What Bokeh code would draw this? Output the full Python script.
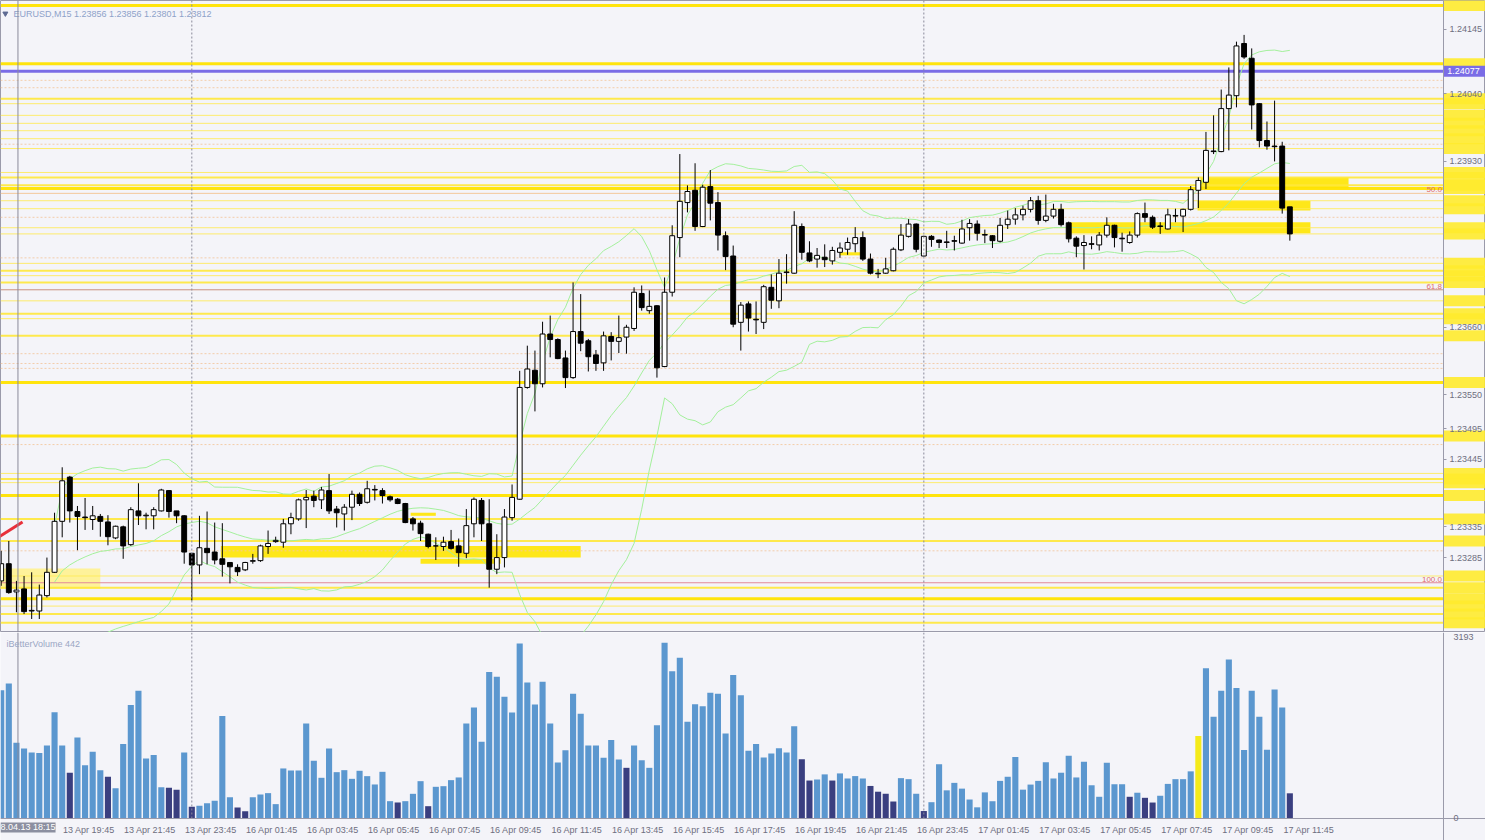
import numpy as np
import pandas as pd
from bokeh.plotting import figure
from bokeh.models import (Range1d, LinearAxis, FixedTicker, PrintfTickFormatter,
                          Span, ColumnDataSource, Label)
from bokeh.layouts import column
from bokeh.embed import file_html
from bokeh.resources import INLINE
from bokeh.core.properties import value

symbol = "EURUSD,M15"
indicator_name = "iBetterVolume"

opens = [
    1.23247, 1.23275, 1.23229, 1.23234, 1.23198, 1.23198, 1.23223, 1.23261, 1.23344, 1.23416,
    1.23360, 1.23351, 1.23347, 1.23352, 1.23343, 1.23317, 1.23335, 1.23306, 1.23361, 1.23353,
    1.23353, 1.23361, 1.23394, 1.23361, 1.23353, 1.23292, 1.23273, 1.23300, 1.23294, 1.23283,
    1.23277, 1.23269, 1.23265, 1.23279, 1.23280, 1.23303, 1.23311, 1.23310, 1.23340, 1.23348,
    1.23379, 1.23385, 1.23379, 1.23394, 1.23364, 1.23356, 1.23367, 1.23388, 1.23375, 1.23396,
    1.23394, 1.23384, 1.23380, 1.23373, 1.23348, 1.23341, 1.23323, 1.23304, 1.23303, 1.23311,
    1.23304, 1.23292, 1.23340, 1.23378, 1.23340, 1.23266, 1.23285, 1.23350, 1.23380, 1.23562,
    1.23590, 1.23568, 1.23649, 1.23640, 1.23610, 1.23578, 1.23653, 1.23638, 1.23615, 1.23602,
    1.23645, 1.23637, 1.23644, 1.23658, 1.23715, 1.23687, 1.23695, 1.23596, 1.23717, 1.23806,
    1.23863, 1.23883, 1.23824, 1.23889, 1.23863, 1.23809, 1.23776, 1.23668, 1.23698, 1.23673,
    1.23668, 1.23725, 1.23703, 1.23750, 1.23748, 1.23824, 1.23781, 1.23771, 1.23774, 1.23768,
    1.23782, 1.23787, 1.23796, 1.23806, 1.23771, 1.23748, 1.23748, 1.23752, 1.23786, 1.23808,
    1.23828, 1.23776, 1.23808, 1.23802, 1.23799, 1.23801, 1.23797, 1.23822, 1.23828, 1.23811,
    1.23809, 1.23800, 1.23827, 1.23836, 1.23843, 1.23852, 1.23866, 1.23834, 1.23841, 1.23852,
    1.23830, 1.23805, 1.23793, 1.23796, 1.23794, 1.23810, 1.23826, 1.23805, 1.23798, 1.23810,
    1.23845, 1.23839, 1.23825, 1.23820, 1.23841, 1.23841, 1.23852, 1.23883, 1.23896, 1.23947,
    1.23946, 1.24016, 1.24037, 1.24122, 1.24098, 1.24024, 1.23964, 1.23955, 1.23955, 1.23856,
]
highs = [
    1.23296, 1.23312, 1.23247, 1.23255, 1.23261, 1.23241, 1.23285, 1.23358, 1.23432, 1.23418,
    1.23369, 1.23382, 1.23369, 1.23356, 1.23354, 1.23337, 1.23337, 1.23367, 1.23406, 1.23358,
    1.23367, 1.23397, 1.23395, 1.23361, 1.23354, 1.23292, 1.23353, 1.23360, 1.23342, 1.23341,
    1.23277, 1.23274, 1.23278, 1.23291, 1.23306, 1.23329, 1.23319, 1.23348, 1.23358, 1.23381,
    1.23395, 1.23394, 1.23400, 1.23421, 1.23369, 1.23372, 1.23394, 1.23391, 1.23410, 1.23403,
    1.23398, 1.23386, 1.23382, 1.23374, 1.23351, 1.23345, 1.23324, 1.23318, 1.23319, 1.23330,
    1.23316, 1.23364, 1.23383, 1.23382, 1.23380, 1.23323, 1.23364, 1.23404, 1.23589, 1.23630,
    1.23622, 1.23669, 1.23679, 1.23642, 1.23622, 1.23733, 1.23714, 1.23641, 1.23623, 1.23653,
    1.23652, 1.23679, 1.23664, 1.23725, 1.23728, 1.23720, 1.23696, 1.23741, 1.23826, 1.23942,
    1.23891, 1.23927, 1.23892, 1.23916, 1.23880, 1.23816, 1.23793, 1.23701, 1.23702, 1.23702,
    1.23729, 1.23746, 1.23771, 1.23779, 1.23849, 1.23829, 1.23800, 1.23789, 1.23795, 1.23791,
    1.23798, 1.23806, 1.23823, 1.23816, 1.23780, 1.23755, 1.23773, 1.23790, 1.23828, 1.23836,
    1.23829, 1.23809, 1.23810, 1.23803, 1.23817, 1.23809, 1.23835, 1.23836, 1.23834, 1.23819,
    1.23810, 1.23838, 1.23850, 1.23854, 1.23858, 1.23872, 1.23874, 1.23876, 1.23861, 1.23861,
    1.23832, 1.23808, 1.23810, 1.23808, 1.23815, 1.23839, 1.23827, 1.23814, 1.23816, 1.23847,
    1.23863, 1.23842, 1.23831, 1.23853, 1.23853, 1.23853, 1.23890, 1.23904, 1.23978, 1.24005,
    1.24047, 1.24083, 1.24125, 1.24136, 1.24114, 1.24025, 1.23995, 1.24029, 1.23962, 1.23856,
]
lows = [
    1.23239, 1.23226, 1.23196, 1.23193, 1.23185, 1.23185, 1.23220, 1.23260, 1.23318, 1.23342,
    1.23297, 1.23330, 1.23330, 1.23319, 1.23305, 1.23315, 1.23283, 1.23304, 1.23338, 1.23331,
    1.23331, 1.23360, 1.23350, 1.23341, 1.23275, 1.23215, 1.23258, 1.23274, 1.23274, 1.23254,
    1.23243, 1.23255, 1.23263, 1.23275, 1.23278, 1.23291, 1.23309, 1.23301, 1.23323, 1.23345,
    1.23333, 1.23367, 1.23364, 1.23356, 1.23334, 1.23329, 1.23346, 1.23369, 1.23373, 1.23378,
    1.23373, 1.23376, 1.23372, 1.23341, 1.23329, 1.23312, 1.23300, 1.23281, 1.23296, 1.23298,
    1.23270, 1.23284, 1.23318, 1.23312, 1.23236, 1.23258, 1.23269, 1.23345, 1.23379, 1.23560,
    1.23523, 1.23562, 1.23611, 1.23608, 1.23561, 1.23576, 1.23621, 1.23588, 1.23589, 1.23589,
    1.23606, 1.23618, 1.23617, 1.23654, 1.23687, 1.23682, 1.23578, 1.23595, 1.23710, 1.23774,
    1.23847, 1.23817, 1.23823, 1.23834, 1.23785, 1.23753, 1.23660, 1.23622, 1.23653, 1.23649,
    1.23657, 1.23690, 1.23691, 1.23731, 1.23747, 1.23770, 1.23766, 1.23757, 1.23758, 1.23762,
    1.23773, 1.23778, 1.23782, 1.23768, 1.23746, 1.23740, 1.23747, 1.23751, 1.23784, 1.23806,
    1.23782, 1.23775, 1.23791, 1.23789, 1.23789, 1.23785, 1.23796, 1.23801, 1.23801, 1.23797,
    1.23789, 1.23798, 1.23820, 1.23827, 1.23834, 1.23847, 1.23827, 1.23831, 1.23837, 1.23824,
    1.23798, 1.23774, 1.23754, 1.23787, 1.23785, 1.23806, 1.23790, 1.23783, 1.23796, 1.23806,
    1.23831, 1.23820, 1.23812, 1.23819, 1.23831, 1.23815, 1.23850, 1.23854, 1.23885, 1.23942,
    1.23945, 1.23948, 1.24018, 1.24097, 1.23982, 1.23953, 1.23949, 1.23930, 1.23845, 1.23801,
]
closes = [
    1.23275, 1.23228, 1.23232, 1.23197, 1.23199, 1.23224, 1.23261, 1.23344, 1.23410, 1.23361,
    1.23352, 1.23350, 1.23353, 1.23344, 1.23319, 1.23336, 1.23304, 1.23363, 1.23353, 1.23354,
    1.23363, 1.23395, 1.23360, 1.23353, 1.23294, 1.23273, 1.23301, 1.23293, 1.23281, 1.23274,
    1.23270, 1.23262, 1.23277, 1.23280, 1.23304, 1.23308, 1.23313, 1.23340, 1.23350, 1.23379,
    1.23383, 1.23378, 1.23395, 1.23361, 1.23358, 1.23367, 1.23388, 1.23373, 1.23397, 1.23395,
    1.23386, 1.23379, 1.23373, 1.23342, 1.23340, 1.23324, 1.23303, 1.23304, 1.23310, 1.23300,
    1.23293, 1.23337, 1.23380, 1.23340, 1.23266, 1.23285, 1.23351, 1.23383, 1.23562, 1.23592,
    1.23568, 1.23649, 1.23640, 1.23609, 1.23578, 1.23653, 1.23634, 1.23612, 1.23601, 1.23646,
    1.23637, 1.23643, 1.23660, 1.23717, 1.23692, 1.23694, 1.23594, 1.23717, 1.23809, 1.23865,
    1.23881, 1.23824, 1.23888, 1.23862, 1.23810, 1.23775, 1.23665, 1.23696, 1.23675, 1.23672,
    1.23726, 1.23704, 1.23748, 1.23749, 1.23826, 1.23782, 1.23768, 1.23777, 1.23770, 1.23785,
    1.23789, 1.23798, 1.23806, 1.23771, 1.23748, 1.23747, 1.23755, 1.23787, 1.23810, 1.23828,
    1.23787, 1.23808, 1.23803, 1.23798, 1.23798, 1.23800, 1.23820, 1.23829, 1.23813, 1.23810,
    1.23801, 1.23826, 1.23836, 1.23843, 1.23852, 1.23866, 1.23834, 1.23841, 1.23852, 1.23827,
    1.23804, 1.23792, 1.23798, 1.23795, 1.23810, 1.23826, 1.23806, 1.23804, 1.23810, 1.23845,
    1.23839, 1.23823, 1.23824, 1.23843, 1.23842, 1.23852, 1.23884, 1.23899, 1.23948, 1.23946,
    1.24016, 1.24038, 1.24118, 1.24100, 1.24022, 1.23964, 1.23955, 1.23954, 1.23854, 1.23812,
]
volumes = [
    2252, 2369, 1328, 1228, 1158, 1147, 1281, 1866, 1281, 801,
    1422, 936, 1170, 848, 731, 532, 1305, 1989, 2241, 1053,
    1112, 550, 538, 503, 1158, 205, 222, 269, 310, 1796,
    374, 193, 129, 374, 421, 445, 252, 878, 842, 842,
    1667, 1012, 714, 1228, 813, 848, 696, 837, 743, 597,
    819, 304, 281, 304, 433, 655, 216, 556, 567, 673,
    720, 1667, 1948, 1346, 2568, 2486, 2135, 1860, 3071, 2387,
    2001, 2399, 1667, 983, 1199, 2188, 1837, 1281, 1281, 1065,
    1375, 1035, 889, 1281, 1024, 889, 1636, 3082, 2582, 2820,
    1696, 2005, 1969, 2207, 2190, 1493, 2517, 2160, 1190, 1309,
    1071, 1142, 1232, 1160, 1618, 1041, 666, 684, 774, 666,
    791, 702, 744, 702, 571, 470, 434, 298, 708, 690,
    434, 131, 286, 952, 494, 625, 524, 333, 196, 458,
    303, 660, 732, 1077, 506, 595, 660, 988, 702, 803,
    1101, 720, 994, 583, 381, 976, 601, 601, 381, 452,
    363, 280, 399, 607, 690, 690, 827, 1446, 2636, 1785,
    2243, 2791, 2291, 1202, 2243, 1785, 1208, 2261, 1946, 442,
]
low_volume_bars = [9, 14, 22, 23, 25, 31, 32, 52, 56, 82, 105, 106, 109, 114,
                   115, 116, 117, 121, 148, 150, 151, 169]
climax_bars = [157]
volume_max_label = 3193

# time axis: bar index of each label and its text
label_bars = [8, 16, 24, 32, 40, 48, 56, 64, 72, 80, 88, 96, 104, 112, 120,
              128, 136, 144, 152, 160, 168]
time_labels = ["13 Apr 19:45", "13 Apr 21:45", "13 Apr 23:45", "16 Apr 01:45",
               "16 Apr 03:45", "16 Apr 05:45", "16 Apr 07:45", "16 Apr 09:45",
               "16 Apr 11:45", "16 Apr 13:45", "16 Apr 15:45", "16 Apr 17:45",
               "16 Apr 19:45", "16 Apr 21:45", "16 Apr 23:45", "17 Apr 01:45",
               "17 Apr 03:45", "17 Apr 05:45", "17 Apr 07:45", "17 Apr 09:45",
               "17 Apr 11:45"]
day_start_bars = [25, 121]
vline_bar = 2.2
vline_label = "8.04.13 18:15"

price_ticks = [1.24145, 1.24040, 1.23930, 1.23660, 1.23550, 1.23495,
               1.23445, 1.23335, 1.23285]

# horizontal price levels (chart objects)
strong_levels = [1.24184, 1.24089, 1.23886, 1.23570, 1.23483, 1.23386, 1.23218]
medium_levels = [1.24032, 1.23904, 1.23891, 1.23752, 1.23733, 1.23682, 1.23646,
                 1.23413, 1.23348, 1.23312, 1.23236, 1.23193, 1.23179]
thin_levels = [1.24024, 1.24005, 1.23992, 1.23980, 1.23967, 1.23951, 1.23912,
               1.23866, 1.23853, 1.23822, 1.23812, 1.23764, 1.23744, 1.23703,
               1.23674, 1.23422, 1.23407, 1.23255, 1.23206]
pale_levels = [1.24062, 1.24050, 1.23958, 1.23839, 1.23773, 1.23617, 1.23601,
               1.23593, 1.23469, 1.23296]
purple_level = 1.24077
fib_levels = [1.23878, 1.23721, 1.23244]
fib_names = ["50.0", "61.8", "100.0"]

# rectangles (bar from, bar to, price top, price bottom)
zone_start = [28.8, 140.2, 156.9, 157.3, 53.7, 55.0, 110.0]
zone_end = [76.0, 171.7, 171.7, 176.7, 57.0, 65.5, 112.7]
zone_top = [1.23304, 1.23831, 1.23866, 1.23904, 1.23358, 1.23283, 1.23782]
zone_bottom = [1.23285, 1.23813, 1.23850, 1.23886, 1.23353, 1.23275, 1.23777]
pale_zone_start = [-0.5]
pale_zone_end = [13.0]
pale_zone_top = [1.23267]
pale_zone_bottom = [1.23234]

trend_x = [-0.5, 2.8]
trend_y = [1.23317, 1.23343]

# ---------------------------------------------------------------- layout
W = 1485
PRICE_H = 632
VOL_H = 208
FONT = "Liberation Sans"
BG = "#F4F4F9"
GRAYLINE = "#9A9AAA"
TXT = "#6E6E80"

x_lo, x_hi = -0.09, 194.66
axis_x = 189.15
price_lo, price_hi = 1.23163, 1.24192
vol_lo, vol_hi = -386, 3263

x_range = Range1d(x_lo, x_hi)

n = len(closes)
idx = np.arange(n)
o = np.array(opens); h = np.array(highs); l = np.array(lows); c = np.array(closes)
up = c >= o

p = figure(width=W, height=PRICE_H, x_range=x_range,
           y_range=Range1d(price_lo, price_hi), x_axis_type=None, y_axis_type=None,
           toolbar_location=None, output_backend="svg", min_border=0,
           background_fill_color=BG, border_fill_color="white",
           outline_line_color=GRAYLINE)

# rectangles
p.quad(left=pale_zone_start, right=pale_zone_end, top=pale_zone_top,
       bottom=pale_zone_bottom, fill_color="#FFF18A", fill_alpha=0.85, line_color=None)
p.quad(left=zone_start, right=zone_end, top=zone_top, bottom=zone_bottom,
       fill_color="#FFE600", fill_alpha=0.9, line_color=None)

# levels
p.segment(x0=x_lo, y0=pale_levels, x1=axis_x, y1=pale_levels,
          line_color="#F3C9A2", line_width=1, line_dash="2 2", line_alpha=0.9)
p.segment(x0=x_lo, y0=thin_levels, x1=axis_x, y1=thin_levels,
          line_color="#FFEA55", line_width=1, line_alpha=0.85)
p.segment(x0=x_lo, y0=medium_levels, x1=axis_x, y1=medium_levels,
          line_color="#FFE83A", line_width=2, line_alpha=0.9)
p.segment(x0=x_lo, y0=strong_levels, x1=axis_x, y1=strong_levels,
          line_color="#FFE300", line_width=3, line_alpha=0.95)
p.segment(x0=x_lo, y0=fib_levels, x1=axis_x, y1=fib_levels,
          line_color=["#F2C79A", "#C9907E", "#E28A98"], line_width=1)
p.segment(x0=x_lo, y0=purple_level, x1=axis_x, y1=purple_level,
          line_color="#7A6CE6", line_width=3)

# labels of levels on the price scale strip
px_price = (price_hi - price_lo) / PRICE_H
box_levels = strong_levels + medium_levels + thin_levels
half_box = px_price * 5.5
p.quad(left=axis_x, right=x_hi, top=[v + half_box for v in box_levels],
       bottom=[v - half_box for v in box_levels], fill_color="#FFEB2E",
       fill_alpha=0.9, line_color=None)
p.quad(left=axis_x, right=x_hi, top=purple_level + half_box,
       bottom=purple_level - half_box, fill_color="#7A6CE6", line_color=None)
p.text(x=[axis_x + 0.5], y=[purple_level], text=[f"{purple_level:.5f}"],
       text_font=value(FONT), text_font_size="9px", text_color="white",
       text_baseline="middle")

# fibo level names
p.text(x=[axis_x - 0.2] * 3, y=[v + px_price for v in fib_levels], text=fib_names,
       text_font=value(FONT), text_font_size="8px", text_color="#E06C6C",
       text_align="right", text_baseline="bottom")

# Bollinger bands (20, 2) computed from the closes
s = pd.Series(closes)
mid = s.rolling(20, min_periods=8).mean()
sd = s.rolling(20, min_periods=8).std(ddof=0)
for band in (mid + 2 * sd, mid, mid - 2 * sd):
    p.line(idx, band.to_numpy(), line_color="#A4F09C", line_width=1)

# trend line
p.line(trend_x, trend_y, line_color="#E8303A", line_width=3)

# separators
for b in day_start_bars:
    p.add_layout(Span(location=b, dimension="height", line_color="#8A8A9A",
                      line_dash="2 2", line_width=1))
p.add_layout(Span(location=vline_bar, dimension="height", line_color="#8A8A9A",
                  line_width=1))

# candles
src = ColumnDataSource(dict(x=idx, top=np.maximum(o, c), bottom=np.minimum(o, c),
                            high=h, low=l, fill=np.where(up, "white", "black")))
p.segment(x0="x", y0="high", x1="x", y1="low", source=src, line_color="black",
          line_width=1)
p.vbar(x="x", width=0.64, top="top", bottom="bottom", fill_color="fill",
       line_color="black", line_width=1, source=src)

# header
hdr = f"{symbol}  {opens[-1]:.5f} {highs[-1]:.5f} {lows[-1]:.5f} {closes[-1]:.5f}"
hy = price_hi - px_price * 13
p.scatter(x=[0.55], y=[hy], marker="inverted_triangle", size=5, color="#5E6A92")
p.text(x=[1.6], y=[hy], text=[hdr], text_font=value(FONT), text_font_size="9px",
       text_color="#8EA2CA", text_baseline="middle")

yax = LinearAxis(fixed_location=axis_x, ticker=FixedTicker(ticks=price_ticks),
                 formatter=PrintfTickFormatter(format="%.5f"),
                 axis_line_color=GRAYLINE, major_tick_line_color=GRAYLINE,
                 major_tick_out=3, major_tick_in=0, minor_tick_line_color=None,
                 major_label_text_font=FONT, major_label_text_font_size="9px",
                 major_label_text_color=TXT, major_label_standoff=3)
p.add_layout(yax, "right")

# ---------------------------------------------------------------- volume
v = figure(width=W, height=VOL_H, x_range=x_range, y_range=Range1d(vol_lo, vol_hi),
           x_axis_type=None, y_axis_type=None, toolbar_location=None,
           output_backend="svg", min_border=0, background_fill_color=BG,
           border_fill_color="white", outline_line_color=None)

vcol = ["#5B97CF"] * n
for b in low_volume_bars:
    vcol[b] = "#3A3F80"
for b in climax_bars:
    vcol[b] = "#F4EA1A"
v.vbar(x=idx, top=volumes, bottom=0, width=0.8, fill_color=vcol, line_color=None)

v.segment(x0=day_start_bars, y0=0, x1=day_start_bars, y1=vol_hi,
          line_color="#8A8A9A", line_dash="2 2", line_width=1)
v.segment(x0=[vline_bar], y0=0, x1=[vline_bar], y1=vol_hi,
          line_color="#8A8A9A", line_width=1)

px_vol = (vol_hi - vol_lo) / VOL_H
v.text(x=[0.7], y=[vol_hi - px_vol * 11], text=[f"{indicator_name} {volumes[-1]}"],
       text_font=value(FONT), text_font_size="9px", text_color="#9AA6C4",
       text_baseline="middle")

vax = LinearAxis(fixed_location=axis_x, ticker=FixedTicker(ticks=[0, volume_max_label]),
                 formatter=PrintfTickFormatter(format="%d"),
                 axis_line_color=GRAYLINE, major_tick_line_color=None,
                 minor_tick_line_color=None, major_label_text_font=FONT,
                 major_label_text_font_size="9px", major_label_text_color=TXT,
                 major_label_standoff=4)
v.add_layout(vax, "right")

tick_pos = [b + 3.5 for b in label_bars]
xax = LinearAxis(fixed_location=0, ticker=FixedTicker(ticks=tick_pos),
                 major_label_overrides={t: s_ for t, s_ in zip(tick_pos, time_labels)},
                 axis_line_color=GRAYLINE, major_tick_line_color=None,
                 minor_tick_line_color=None, major_label_text_font=FONT,
                 major_label_text_font_size="9px", major_label_text_color=TXT,
                 major_label_standoff=1)
v.add_layout(xax, "below")

v.add_layout(Label(x=x_lo, y=-px_vol * 9, x_units="data", y_units="data",
                   text=vline_label, text_font=FONT, text_font_size="9px",
                   text_color="white", background_fill_color="#8C8FA0",
                   text_baseline="middle"))

layout = column(p, v, spacing=0)
open("out.html", "w").write(file_html(layout, INLINE))
